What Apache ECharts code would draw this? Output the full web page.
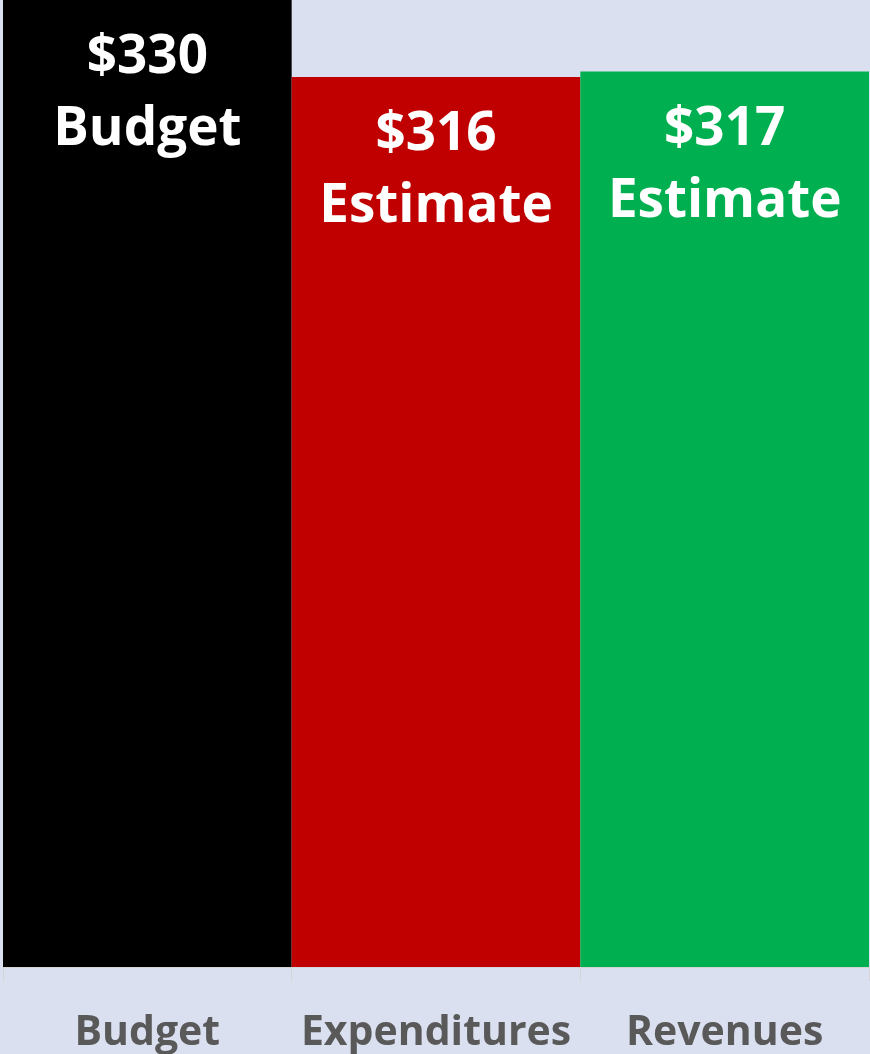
<!DOCTYPE html>
<html>
<head>
<meta charset="utf-8">
<style>
  html, body { margin: 0; padding: 0; background: #DAE0F0; }
  #chart { width: 870px; height: 1054px; }
</style>
<script src="https://cdn.jsdelivr.net/npm/echarts@6/dist/echarts.min.js"></script>
</head>
<body>
<div id="chart"></div>
<script>
// Budget vs. estimated spending and revenue (millions)
const categories = ['Budget', 'Expenditures', 'Revenues'];
const amounts = [330, 316, 317];
const amountTags = ['Budget', 'Estimate', 'Estimate'];
const barColors = ['#000000', '#C00000', '#00B050'];

const chart = echarts.init(document.getElementById('chart'), null, { renderer: 'canvas' });

chart.setOption({
  backgroundColor: '#DAE0F0',
  animation: false,
  grid: { left: 3, right: 1, top: 0, bottom: 87, containLabel: false },
  xAxis: {
    type: 'category',
    data: categories,
    boundaryGap: true,
    axisLine: { show: true, lineStyle: { color: '#D5D5D5', width: 1 } },
    axisTick: { show: true, length: 14, alignWithLabel: false, interval: 0, lineStyle: { color: '#D5D5D5' } },
    axisLabel: {
      interval: 0,
      hideOverlap: false,
      color: '#595959',
      fontFamily: 'Open Sans',
      fontWeight: 'bold',
      fontSize: 41,
      margin: 46
    }
  },
  yAxis: {
    type: 'value',
    min: 154,
    max: 330,
    show: false,
    splitLine: { show: false }
  },
  series: [{
    type: 'bar',
    barCategoryGap: '0%',
    barWidth: '100%',
    data: amounts.map((v, i) => ({
      value: v,
      itemStyle: { color: barColors[i] },
      label: { formatter: '$' + v + '\n' + amountTags[i] }
    })),
    label: {
      show: true,
      position: 'insideTop',
      distance: 22,
      color: '#FFFFFF',
      fontFamily: 'Open Sans',
      fontWeight: 'bold',
      fontSize: 53,
      lineHeight: 72,
      align: 'center'
    }
  }]
});
</script>
</body>
</html>
